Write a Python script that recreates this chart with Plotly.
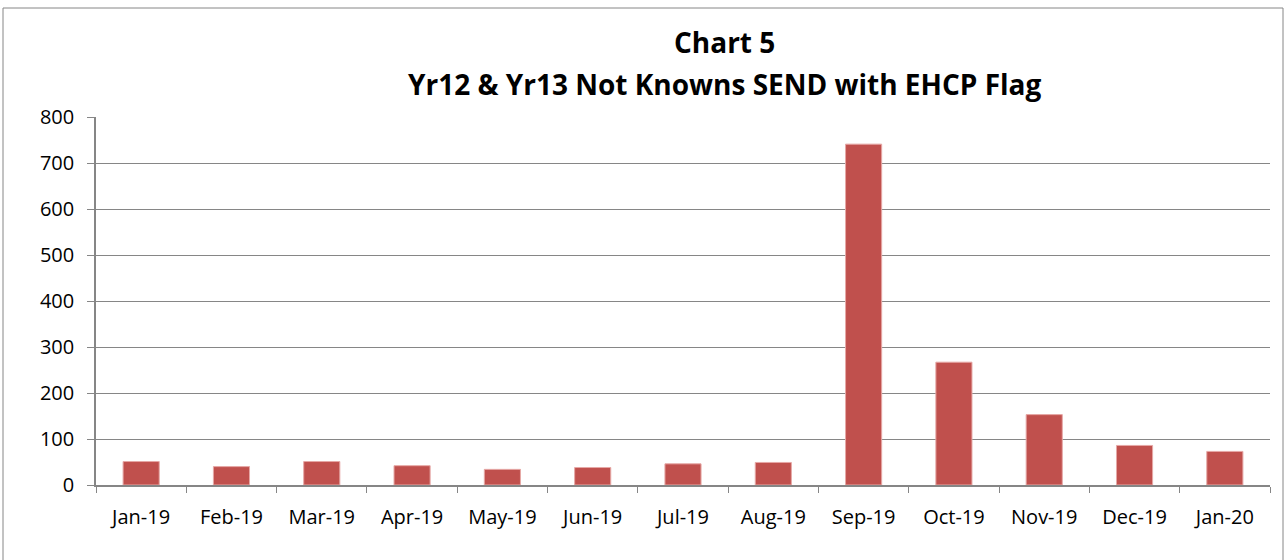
import plotly.graph_objects as go

months = ["Jan-19", "Feb-19", "Mar-19", "Apr-19", "May-19", "Jun-19", "Jul-19",
          "Aug-19", "Sep-19", "Oct-19", "Nov-19", "Dec-19", "Jan-20"]
counts = [51, 40, 51, 42, 34, 38, 46, 49, 741, 267, 153, 86, 73]
y_ticks = [0, 100, 200, 300, 400, 500, 600, 700, 800]
title_lines = ["Chart 5", "Yr12 & Yr13 Not Knowns SEND with EHCP Flag"]

W, H = 1287, 560
L, R, T, B = 96, 17, 117, 75
pw, ph = W - L - R, H - T - B

fig = go.Figure(go.Bar(x=months, y=counts, marker=dict(color="#C0504D",
                line=dict(color="#E6A8A6", width=1)), width=0.4))

def px2paper_x(p):
    return (p - L) / pw

def px2paper_y(p):
    return (H - B - p) / ph

fig.add_shape(type="rect", xref="paper", yref="paper",
              x0=px2paper_x(3), x1=px2paper_x(1283), y0=px2paper_y(575), y1=px2paper_y(8),
              line=dict(color="#868686", width=1), fillcolor="rgba(0,0,0,0)", layer="below")

for txt, yc in zip(title_lines, [42, 84]):
    fig.add_annotation(text="<b>%s</b>" % txt, xref="paper", yref="paper",
                       x=px2paper_x(724), y=px2paper_y(yc), xanchor="center", yanchor="middle",
                       showarrow=False, font=dict(family="Open Sans", size=28, color="black"))

fig.update_layout(
    width=W, height=H,
    margin=dict(l=L, r=R, t=T, b=B),
    paper_bgcolor="white", plot_bgcolor="white",
    font=dict(family="Open Sans", color="black", size=20),
    showlegend=False, bargap=0.6,
)
fig.update_xaxes(showline=True, linecolor="#868686", linewidth=1.5,
                 ticks="outside", tickson="boundaries", ticklen=6, tickcolor="#868686",
                 showgrid=False, tickfont=dict(size=20), ticklabelstandoff=13)
fig.update_yaxes(range=[0, 800], tickvals=y_ticks, showline=True, linecolor="#868686",
                 linewidth=1.5, ticks="outside", ticklen=7, tickcolor="#868686",
                 showgrid=True, gridcolor="#868686", gridwidth=1, zeroline=False,
                 tickfont=dict(size=20), ticklabelstandoff=9)

fig.write_html("out.html", config={"displayModeBar": False},
               post_script="document.body.style.margin='0';")
